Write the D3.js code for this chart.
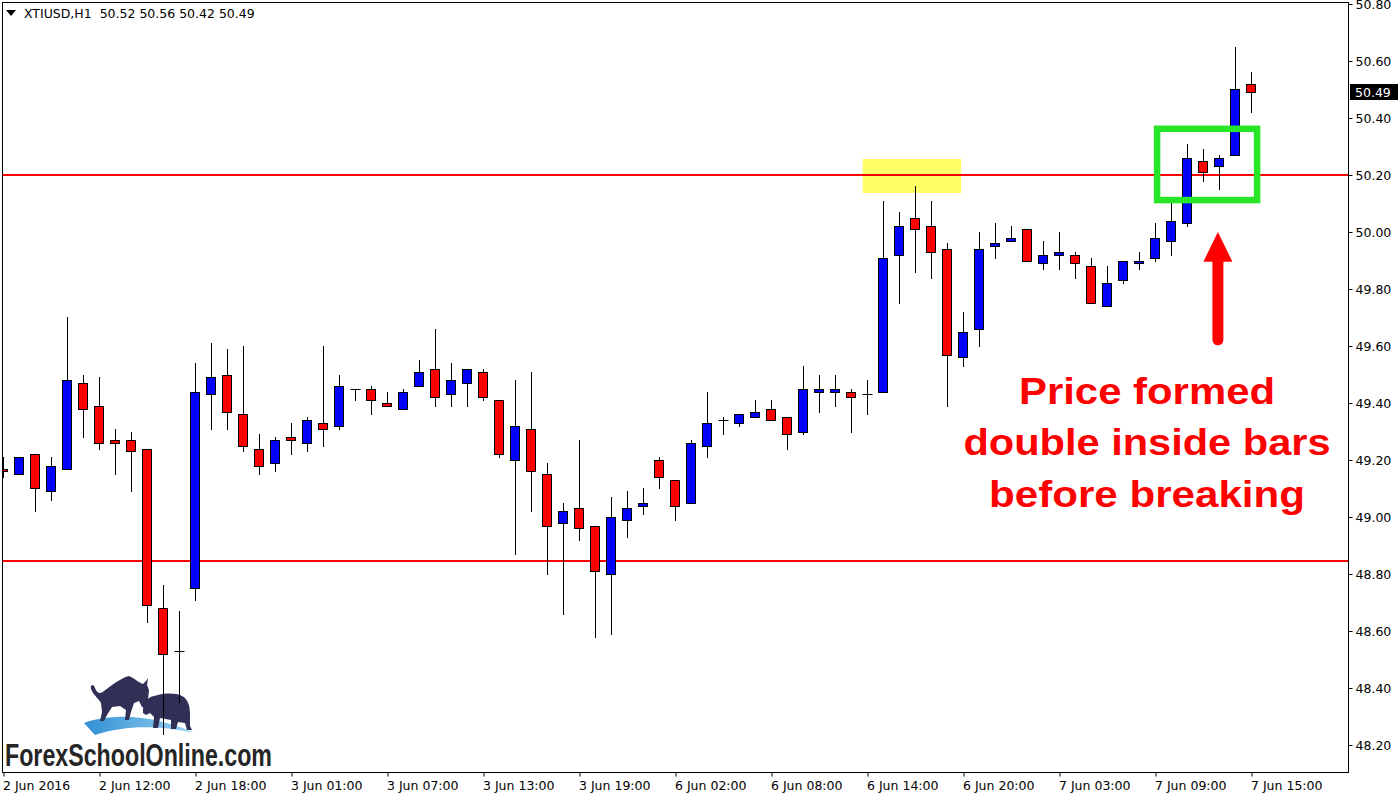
<!DOCTYPE html>
<html><head><meta charset="utf-8">
<script src="https://cdn.jsdelivr.net/npm/d3@7"></script>
<style>
html,body{margin:0;padding:0;background:#fff;}
svg{display:block;}
text{font-family:"DejaVu Sans",Tahoma,sans-serif;}
</style></head>
<body>
<svg id="chart" width="1400" height="800"></svg>
<script>
// ---------- data ----------
const symbolTitle = "XTIUSD,H1  50.52 50.56 50.42 50.49";
const opens  = [49.17,49.15,49.22,49.09,49.17,49.47,49.39,49.27,49.27,49.24,48.68,48.53,48.75,49.43,49.50,49.36,49.24,49.19,49.28,49.26,
                49.33,49.32,49.45,49.45,49.40,49.38,49.46,49.52,49.43,49.47,49.51,49.41,49.20,49.31,49.15,48.98,49.03,48.97,48.80,48.99,
                49.04,49.20,49.13,49.05,49.25,49.34,49.33,49.35,49.38,49.35,49.30,49.44,49.44,49.44,49.43,49.44,49.92,50.05,50.02,49.94,
                49.56,49.66,49.95,49.97,50.01,49.89,49.92,49.92,49.88,49.74,49.83,49.89,49.91,49.97,50.03,50.25,50.23,50.27,50.52];
const highs  = [49.21,49.21,49.22,49.21,49.70,49.50,49.49,49.31,49.30,49.24,48.76,48.67,49.54,49.61,49.59,49.60,49.29,49.28,49.33,49.35,
                49.60,49.50,49.45,49.46,49.44,49.45,49.55,49.66,49.54,49.52,49.52,49.41,49.48,49.51,49.19,49.05,49.27,48.97,49.07,49.09,
                49.10,49.21,49.13,49.27,49.44,49.35,49.36,49.41,49.41,49.35,49.53,49.50,49.50,49.45,49.48,50.11,50.07,50.16,50.11,49.96,
                49.72,50.00,50.03,50.02,50.01,49.97,50.00,49.93,49.91,49.88,49.90,49.93,50.03,50.10,50.31,50.29,50.27,50.65,50.56];
const lows   = [49.14,49.15,49.02,49.06,49.17,49.28,49.24,49.15,49.09,48.63,48.24,48.35,48.71,49.31,49.31,49.23,49.15,49.16,49.22,49.23,
                49.25,49.31,49.41,49.36,49.39,49.38,49.46,49.39,49.39,49.39,49.41,49.21,48.87,49.02,48.80,48.66,48.92,48.58,48.59,48.93,
                49.01,49.10,48.99,49.05,49.21,49.29,49.32,49.35,49.34,49.24,49.29,49.37,49.39,49.30,49.36,49.44,49.75,49.86,49.84,49.39,
                49.53,49.60,49.91,49.97,49.90,49.87,49.87,49.84,49.75,49.74,49.82,49.87,49.90,49.92,50.02,50.18,50.15,50.27,50.42];
const closes = [49.16,49.21,49.10,49.18,49.48,49.38,49.26,49.26,49.23,48.69,48.52,48.53,49.44,49.49,49.37,49.25,49.18,49.27,49.27,49.34,
                49.31,49.46,49.45,49.41,49.39,49.44,49.51,49.42,49.48,49.52,49.42,49.22,49.32,49.16,48.97,49.02,48.96,48.81,49.00,49.03,
                49.05,49.14,49.04,49.26,49.33,49.34,49.36,49.37,49.34,49.29,49.45,49.45,49.45,49.42,49.43,49.91,50.02,50.01,49.93,49.57,
                49.65,49.94,49.96,49.98,49.90,49.92,49.93,49.89,49.75,49.82,49.90,49.90,49.98,50.04,50.26,50.21,50.26,50.50,50.49];
const tickIndex  = [0,6,12,18,24,30,36,42,48,54,60,66,72,78];
const tickLabels = ["2 Jun 2016","2 Jun 12:00","2 Jun 18:00","3 Jun 01:00","3 Jun 07:00","3 Jun 13:00","3 Jun 19:00",
                    "6 Jun 02:00","6 Jun 08:00","6 Jun 14:00","6 Jun 20:00","7 Jun 03:00","7 Jun 09:00","7 Jun 15:00"];
const priceTicks = [48.2,48.4,48.6,48.8,49.0,49.2,49.4,49.6,49.8,50.0,50.2,50.4,50.6,50.8];
const levelLines = [50.20, 48.845];
const lastPrice  = 50.49;
const noteLines  = ["Price formed","double inside bars","before breaking"];

// ---------- layout ----------
const svg = d3.select("#chart");
const frame = {left:2.5, top:2.5, right:1348.5, bottom:772.5};
const x = d3.scaleLinear().domain([0,78]).range([3.5, 3.5 + 16*78]);
const y = d3.scaleLinear().domain([48.2,50.8]).range([745,4]);
const px = v => Math.round(v) + 0.5;

svg.append("defs").append("clipPath").attr("id","plot")
  .append("rect").attr("x",frame.left).attr("y",frame.top)
  .attr("width",frame.right-frame.left).attr("height",frame.bottom-frame.top);

const plot = svg.append("g").attr("clip-path","url(#plot)");

// yellow highlight (behind)
plot.append("rect")
  .attr("x", x(53.7)).attr("y", y(50.256))
  .attr("width", x(59.85)-x(53.7)).attr("height", y(50.137)-y(50.256))
  .attr("fill","#ffff66");

// horizontal level lines
plot.selectAll("line.level").data(levelLines).join("line")
  .attr("class","level")
  .attr("x1",frame.left).attr("x2",frame.right)
  .attr("y1",d=>Math.round(y(d))).attr("y2",d=>Math.round(y(d)))
  .attr("stroke","#ff0000").attr("stroke-width",2);

// logo (decoration)
const logo = plot.append("g").attr("class","logo");
const grad = svg.select("defs").append("linearGradient").attr("id","sw").attr("x1","0").attr("x2","1");
grad.append("stop").attr("offset","0").attr("stop-color","#2f8fd3");
grad.append("stop").attr("offset","1").attr("stop-color","#9ad4f2");
logo.append("path")
  .attr("d","M84,723 C110,714 150,713 194,733 C160,725 125,725 95,735 Z")
  .attr("fill","url(#sw)");
logo.append("path")
  .attr("d","M91,689 C90,684 94,684 95,688 C97,694 101,694 104,691 L112,685 C118,681 124,677 129,676 L133,678 C137,681 140,683 143,684 L146,681 L148,678 L147,685 L149,690 L148,700 L146,708 L142,707 L139,701 L134,703 L131,712 L129,720 L125,720 L126,710 L120,706 L112,707 L107,715 L104,721 L100,721 L102,712 L101,703 C99,699 95,696 93,693 Z")
  .attr("fill","#302f55");
logo.append("path")
  .attr("d","M143,709 C144,702 148,697 154,696 L158,695 C166,693 176,693 182,696 C188,699 190,706 190,714 L190,726 L192,730 L187,730 L185,723 L178,722 L176,729 L171,729 L171,720 L160,718 L158,728 L153,728 L154,717 L150,713 L146,715 L143,713 Z")
  .attr("fill","#302f55");
logo.append("text").attr("x",5).attr("y",766)
  .attr("textLength",267).attr("lengthAdjust","spacingAndGlyphs")
  .style("font-family",'"Liberation Sans Narrow","Liberation Sans",Arial,sans-serif')
  .style("font-weight","bold").style("font-size","32px").attr("fill","#252525")
  .text("ForexSchoolOnline.com");

// candles
const idx = d3.range(opens.length);
const candles = plot.selectAll("g.candle").data(idx).join("g").attr("class","candle");
candles.append("line")
  .attr("x1",i=>x(i)).attr("x2",i=>x(i))
  .attr("y1",i=>Math.round(y(highs[i]))).attr("y2",i=>Math.round(y(lows[i]))+1)
  .attr("stroke","#000").attr("stroke-width",1);
candles.filter(i=>opens[i]!==closes[i]).append("rect")
  .attr("x",i=>x(i)-5).attr("width",9)
  .attr("y",i=>px(y(Math.max(opens[i],closes[i]))))
  .attr("height",i=>Math.max(1, Math.round(y(Math.min(opens[i],closes[i])))-Math.round(y(Math.max(opens[i],closes[i])))))
  .attr("fill",i=>closes[i]>opens[i]?"#0000ff":"#ff0000")
  .attr("stroke","#000").attr("stroke-width",1);
candles.filter(i=>opens[i]===closes[i]).append("line")
  .attr("x1",i=>x(i)-5).attr("x2",i=>x(i)+5)
  .attr("y1",i=>px(y(opens[i]))).attr("y2",i=>px(y(opens[i])))
  .attr("stroke","#000").attr("stroke-width",1);

// green box
plot.append("rect")
  .attr("x", x(72.1)).attr("y", y(50.362))
  .attr("width", x(78.35)-x(72.1)).attr("height", y(50.112)-y(50.362))
  .attr("fill","none").attr("stroke","#27e627").attr("stroke-width",6.5);

// red arrow
const ax = x(75.9), tipY = y(50.0), baseY = y(49.896), tailY = y(49.604);
plot.append("line").attr("x1",ax).attr("x2",ax).attr("y1",baseY-2).attr("y2",tailY-5)
  .attr("stroke","#ff0000").attr("stroke-width",11).attr("stroke-linecap","round");
plot.append("path")
  .attr("d",`M${ax},${tipY} L${ax+14.5},${baseY} L${ax-14.5},${baseY} Z`)
  .attr("fill","#ff0000");

// annotation text
const noteX = 1147, noteBase = [404,455,507], noteW = [256,367,316];
plot.selectAll("text.note").data(noteLines).join("text").attr("class","note")
  .attr("x",noteX).attr("y",(d,i)=>noteBase[i])
  .attr("text-anchor","middle")
  .attr("textLength",(d,i)=>noteW[i]).attr("lengthAdjust","spacingAndGlyphs")
  .style("font-family",'"Liberation Sans",Arial,sans-serif')
  .style("font-weight","bold").style("font-size","36px").attr("fill","#ff0000")
  .text(d=>d);

// frame
svg.append("rect").attr("x",frame.left).attr("y",frame.top)
  .attr("width",frame.right-frame.left).attr("height",frame.bottom-frame.top)
  .attr("fill","none").attr("stroke","#000").attr("stroke-width",1);

// y axis (right)
const yAxis = d3.axisRight(y).tickValues(priceTicks).tickSize(4).tickPadding(3)
  .tickFormat(d=>d.toFixed(2));
const yg = svg.append("g").attr("transform",`translate(${frame.right},0)`).call(yAxis);
yg.select(".domain").remove();
yg.selectAll(".tick line").attr("stroke","#000");
yg.selectAll(".tick text").style("font-size","12.5px").attr("fill","#000")
  .style("font-family",'"DejaVu Sans",Tahoma,sans-serif');

// x axis
const xAxis = d3.axisBottom(x).tickValues(tickIndex).tickSize(4)
  .tickFormat((d,i)=>tickLabels[i]);
const xg = svg.append("g").attr("transform",`translate(0,${frame.bottom})`).call(xAxis);
xg.select(".domain").remove();
xg.selectAll(".tick line").attr("stroke","#000");
xg.selectAll(".tick text").attr("text-anchor","start").attr("x",-1).attr("y",17).attr("dy",null)
  .style("font-size","12.5px").attr("fill","#000")
  .style("font-family",'"DejaVu Sans",Tahoma,sans-serif');

// last price tag
svg.append("rect").attr("x",1350).attr("y",Math.round(y(lastPrice))-8).attr("width",48).attr("height",16).attr("fill","#000");
svg.append("text").attr("x",1355).attr("y",y(lastPrice)).attr("dy","0.35em")
  .style("font-size","12.5px").attr("fill","#fff").text(lastPrice.toFixed(2));

// title
svg.append("path").attr("d","M6,10 L16,10 L11,16 Z").attr("fill","#000");
svg.append("text").attr("x",24).attr("y",18).style("font-size","12.5px").attr("fill","#000")
  .attr("xml:space","preserve").style("white-space","pre").text(symbolTitle);
</script>
</body></html>
